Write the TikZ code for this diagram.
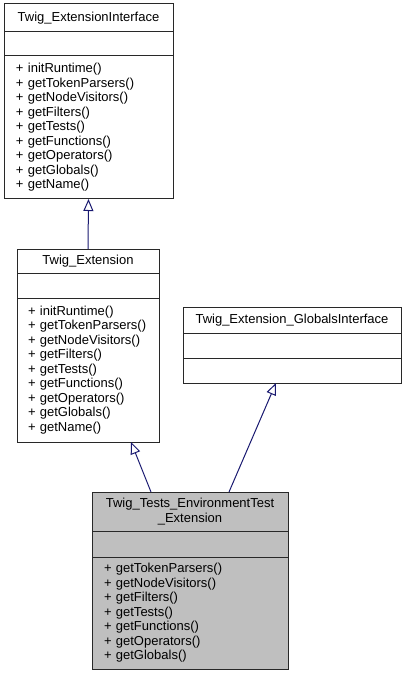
\documentclass[tikz,border=0pt]{standalone}
\usepackage{fontspec}
\setmainfont{Liberation Sans}
\usepackage{tikz}
\usetikzlibrary{positioning, arrows.meta}
\definecolor{edgeblue}{RGB}{25,25,112}
\definecolor{boxline}{RGB}{40,40,40}
\tikzstyle{arrow} = [draw=edgeblue, line width=1pt, -{Triangle[open, length=12pt, width=10pt]}]
\tikzstyle{part} = [rectangle, draw=boxline, line width=1pt, outer sep=0pt, inner xsep=12pt, inner ysep=0pt, font=\fontsize{13}{14.5}\selectfont]

\begin{document}
\begin{tikzpicture}[x=1pt, y=-1pt]
                \useasboundingbox (0,0) rectangle (407,676);

                \node (ifacetitle) [part, anchor=north west, minimum width=169pt, minimum height=28pt] at (4,4) {Twig\_ExtensionInterface};
                \node (ifaceattr) [part, minimum width=169pt, minimum height=24pt, below=0pt of ifacetitle] {};
                \node (ifacemeth) [part, text width=145pt, align=left, minimum height=143pt, below=0pt of ifaceattr] {+ initRuntime()\\+ getTokenParsers()\\+ getNodeVisitors()\\+ getFilters()\\+ getTests()\\+ getFunctions()\\+ getOperators()\\+ getGlobals()\\+ getName()};

                \node (extitle) [part, anchor=north west, minimum width=142pt, minimum height=24pt] at (17,249) {Twig\_Extension};
                \node (exattr) [part, minimum width=142pt, minimum height=25pt, below=0pt of extitle] {};
                \node (exmeth) [part, inner xsep=11pt, text width=120pt, align=left, minimum height=144pt, below=0pt of exattr] {+ initRuntime()\\+ getTokenParsers()\\+ getNodeVisitors()\\+ getFilters()\\+ getTests()\\+ getFunctions()\\+ getOperators()\\+ getGlobals()\\+ getName()};

                \node (globtitle) [part, anchor=north west, minimum width=218pt, minimum height=26pt] at (183,307) {Twig\_Extension\_GlobalsInterface};
                \node (globattr) [part, minimum width=218pt, minimum height=25pt, below=0pt of globtitle] {};
                \node (globmeth) [part, minimum width=218pt, minimum height=25pt, below=0pt of globattr] {};

                \node (envtitle) [part, fill=black!25, anchor=north west, minimum width=196pt, minimum height=39pt, align=center] at (92,492) {Twig\_Tests\_EnvironmentTest\\\_Extension};
                \node (envattr) [part, fill=black!25, minimum width=196pt, minimum height=26pt, below=0pt of envtitle] {};
                \node (envmeth) [part, fill=black!25, text width=172pt, align=left, minimum height=112pt, below=0pt of envattr] {+ getTokenParsers()\\+ getNodeVisitors()\\+ getFilters()\\+ getTests()\\+ getFunctions()\\+ getOperators()\\+ getGlobals()};

                \draw [arrow] (extitle.north) -- (ifacemeth.south);
                \draw [arrow] ([xshift=-39pt]envtitle.north) -- ([xshift=43pt]exmeth.south);
                \draw [arrow] ([xshift=39pt]envtitle.north) -- ([xshift=-16pt]globmeth.south);
            \end{tikzpicture}
\end{document}
